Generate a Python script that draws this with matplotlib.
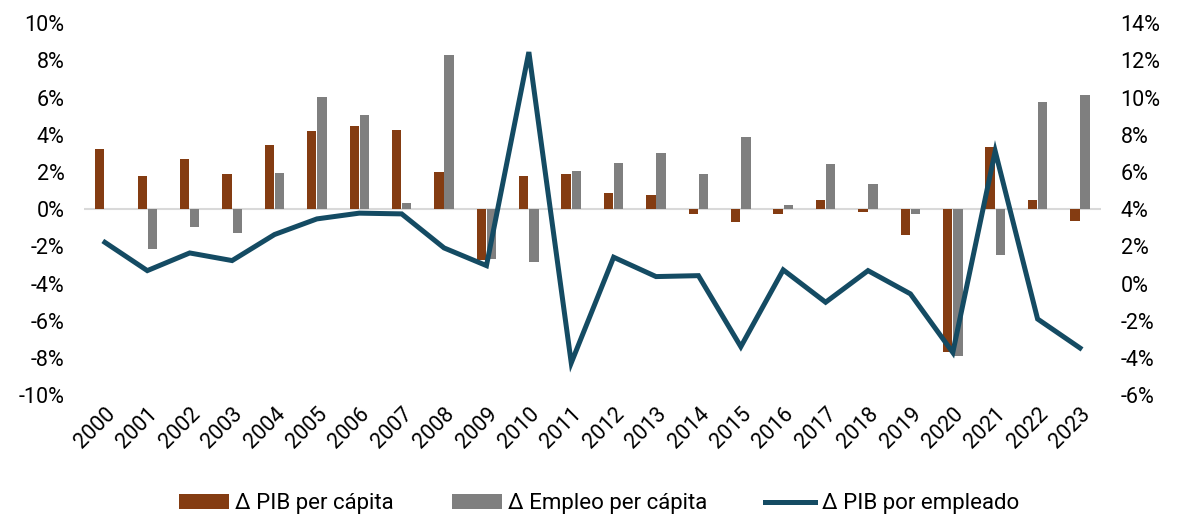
import numpy as np
import matplotlib.pyplot as plt
from matplotlib.ticker import FuncFormatter

plt.rcParams['font.family'] = ['Roboto', 'DejaVu Sans']

# Data
years = [str(y) for y in range(2000, 2024)]
pib_per_capita = [3.23, 1.81, 2.69, 1.90, 3.48, 4.20, 4.50, 4.24, 1.99, -2.71,
                  1.81, 1.90, 0.89, 0.79, -0.25, -0.70, -0.28, 0.47, -0.14, -1.40,
                  -7.68, 3.34, 0.47, -0.65]
empleo_per_capita = [0.0, -2.12, -0.93, -1.27, 1.94, 6.01, 5.08, 0.34, 8.27, -2.69,
                     -2.85, 2.03, 2.50, 3.04, 1.87, 3.91, 0.25, 2.44, 1.38, -0.27,
                     -7.89, -2.46, 5.78, 6.14]
pib_por_empleado = [2.22, 0.70, 1.65, 1.24, 2.64, 3.48, 3.79, 3.75, 1.92, 0.97,
                    12.45, -4.26, 1.42, 0.38, 0.43, -3.39, 0.74, -1.00, 0.70, -0.55,
                    -3.70, 7.12, -1.90, -3.46]

BROWN = '#843C12'
GREY = '#7F7F7F'
NAVY = '#144B63'
FS = 15.5

fig = plt.figure(figsize=(11.79, 5.16), dpi=100)
ax = fig.add_axes([0.071, 0.234, 0.863, 0.721])
ax2 = ax.twinx()

x = np.arange(len(years))
w = 0.22
ax.bar(x - 0.12, pib_per_capita, w, color=BROWN, label='Δ PIB per cápita', zorder=2)
ax.bar(x + 0.12, empleo_per_capita, w, color=GREY, label='Δ Empleo per cápita', zorder=2)
ax.axhline(0, color='#D9D9D9', lw=1.5, zorder=1)

ax2.plot(x, pib_por_empleado, color=NAVY, lw=3.6, solid_joinstyle='miter',
         label='Δ PIB por empleado', zorder=3)

ax.set_xlim(-0.5, len(years) - 0.5)
ax.set_ylim(-10, 10)
ax2.set_ylim(-6, 14)
ax.set_yticks(np.arange(-10, 11, 2))
ax2.set_yticks(np.arange(-6, 15, 2))
pct = FuncFormatter(lambda v, _: f'{v:.0f}%')
ax.yaxis.set_major_formatter(pct)
ax2.yaxis.set_major_formatter(pct)

ax.set_xticks(x)
ax.set_xticklabels(years, rotation=45, ha='right', rotation_mode='anchor')

for a in (ax, ax2):
    for s in a.spines.values():
        s.set_visible(False)
    a.tick_params(length=0, labelsize=FS, colors='black')
ax.tick_params(axis='y', pad=14)
ax2.tick_params(axis='y', pad=14)
ax.tick_params(axis='x', pad=6)

h1, l1 = ax.get_legend_handles_labels()
h2, l2 = ax2.get_legend_handles_labels()
fig.legend(h1 + h2, l1 + l2, loc='lower center', bbox_to_anchor=(0.508, -0.035),
           ncol=3, frameon=False, fontsize=16, handlelength=2.25,
           handleheight=0.63, columnspacing=2.6, handletextpad=0.3)

fig.savefig('out.png', dpi=100)
